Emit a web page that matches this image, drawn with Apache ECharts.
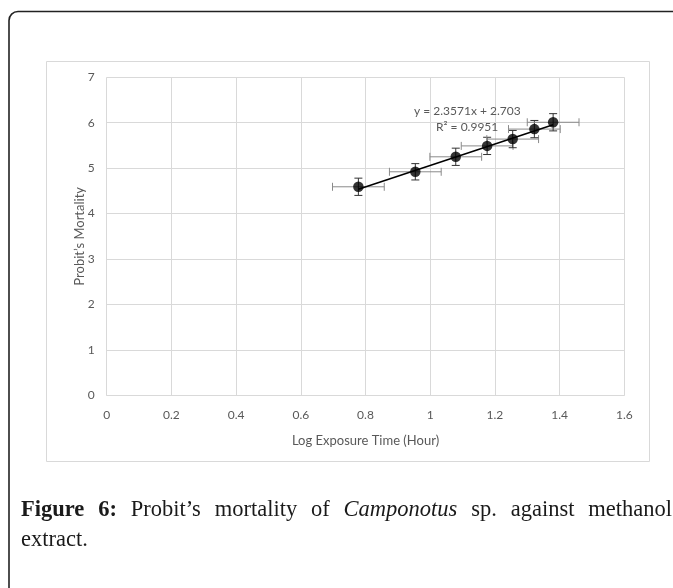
<!DOCTYPE html>
<html><head><meta charset="utf-8">
<script src="https://cdn.jsdelivr.net/npm/echarts@6/dist/echarts.min.js"></script>
<style>html,body{margin:0;padding:0;background:#fff}#c{width:673px;height:588px}</style>
</head><body><div id="c"></div>
<script>
// Data
const xVals = [0.778, 0.954, 1.079, 1.176, 1.255, 1.322, 1.380];   // log exposure time (hour)
const yVals = [4.59, 4.92, 5.25, 5.49, 5.64, 5.86, 6.01];          // probit mortality
const xErr  = [0.08, 0.08, 0.08, 0.08, 0.08, 0.08, 0.08];
const yErr  = [0.19, 0.18, 0.19, 0.19, 0.19, 0.19, 0.19];
const trendX = [0.778, 1.380];
const trendY = [4.537, 5.956];
const eqText = 'y = 2.3571x + 2.703';
const r2Text = 'R\u00B2 = 0.9951';
const xTitle = 'Log Exposure Time (Hour)';
const yTitle = 'Probit\u2019s Mortality';
const captionWords = [
  {t:'Figure', b:true}, {t:'6:', b:true}, {t:'Probit\u2019s'}, {t:'mortality'}, {t:'of'},
  {t:'Camponotus', i:true}, {t:'sp.'}, {t:'against'}, {t:'methanol'}
];
const captionLine2 = 'extract.';

const chart = echarts.init(document.getElementById('c'), null, {renderer:'canvas'});
const gray = '#595959';
const tickFont = {fontFamily:'Lato', fontSize:12, color:gray};

// justified caption line 1
const capFont = 22.5, capFamily = '"Liberation Serif", "DejaVu Serif", serif';
const cv = document.createElement('canvas').getContext('2d');
function fontStr(w){ return (w.i?'italic ':'') + (w.b?'bold ':'') + capFont + 'px ' + capFamily; }
let total = 0; const widths = captionWords.map(w => { cv.font = fontStr(w); const m = cv.measureText(w.t).width; total += m; return m; });
const capLeft = 21, capRight = 672;
const gap = (capRight - capLeft - total) / (captionWords.length - 1);
const capEls = []; let cx = capLeft;
captionWords.forEach((w, k) => {
  capEls.push({type:'text', left: cx, top: 499, style:{text:w.t, fontFamily:capFamily, fontSize:capFont,
    fontWeight: w.b?'bold':'normal', fontStyle: w.i?'italic':'normal', fill:'#1a1a1a'}});
  cx += widths[k] + gap;
});
capEls.push({type:'text', left: capLeft, top: 529, style:{text:captionLine2, fontFamily:capFamily, fontSize:capFont, fill:'#1a1a1a'}});

const option = {
  animation:false,
  backgroundColor:'#fff',
  grid:{left:106.7, right:48.7, top:77.3, bottom:192.7, containLabel:false},
  xAxis:{type:'value', min:0, max:1.6, interval:0.2,
    name:xTitle, nameLocation:'middle', nameGap:39, nameMoveOverlap:false,
    nameTextStyle:{fontFamily:'Lato', fontSize:13, color:gray},
    axisLine:{show:true, lineStyle:{color:'#d9d9d9', width:1}},
    axisTick:{show:false},
    axisLabel:Object.assign({margin:14}, tickFont),
    splitLine:{show:true, lineStyle:{color:'#d9d9d9', width:1}}},
  yAxis:{type:'value', min:0, max:7, interval:1,
    name:yTitle, nameLocation:'middle', nameGap:20, nameRotate:90, nameMoveOverlap:false,
    nameTextStyle:{fontFamily:'Lato', fontSize:13, color:gray},
    axisLine:{show:false}, axisTick:{show:false},
    axisLabel:Object.assign({margin:12}, tickFont),
    splitLine:{show:true, lineStyle:{color:'#d9d9d9', width:1}}},
  graphic:[
    {type:'rect', shape:{x:9, y:11.5, width:720, height:640, r:9}, style:{fill:'none', stroke:'#222', lineWidth:1.6}, z:-1},
    {type:'rect', shape:{x:46.5, y:61.5, width:603, height:400}, style:{fill:'none', stroke:'#d9d9d9', lineWidth:1}, z:-1},
    {type:'text', left:414, top:105, style:{text:eqText, fontFamily:'Lato', fontSize:12, fill:gray}, z:10},
    {type:'text', left:436, top:121, style:{text:r2Text, fontFamily:'Lato', fontSize:12, fill:gray}, z:10}
  ].concat(capEls),
  series:[
    {type:'custom', z:2,
     data: xVals.map((x,i)=>[x, yVals[i], xErr[i], yErr[i]]),
     renderItem:function(params, api){
       const x=api.value(0), y=api.value(1), ex=api.value(2), ey=api.value(3);
       const l=api.coord([x-ex,y]), r=api.coord([x+ex,y]);
       const t=api.coord([x,y+ey]), b=api.coord([x,y-ey]);
       const cap=4;
       const hs={stroke:'#8a8a8a', lineWidth:1}, vs={stroke:'#333333', lineWidth:1};
       return {type:'group', children:[
         {type:'line', shape:{x1:l[0],y1:l[1],x2:r[0],y2:r[1]}, style:hs},
         {type:'line', shape:{x1:l[0],y1:l[1]-cap,x2:l[0],y2:l[1]+cap}, style:hs},
         {type:'line', shape:{x1:r[0],y1:r[1]-cap,x2:r[0],y2:r[1]+cap}, style:hs},
         {type:'line', shape:{x1:t[0],y1:t[1],x2:b[0],y2:b[1]}, style:vs},
         {type:'line', shape:{x1:t[0]-cap,y1:t[1],x2:t[0]+cap,y2:t[1]}, style:vs},
         {type:'line', shape:{x1:b[0]-cap,y1:b[1],x2:b[0]+cap,y2:b[1]}, style:vs}
       ]};
     }},
    {type:'line', z:3, data: trendX.map((x,i)=>[x, trendY[i]]), symbol:'none',
     lineStyle:{color:'#000', width:1.5}},
    {type:'scatter', z:4, data: xVals.map((x,i)=>[x, yVals[i]]), symbol:'circle', symbolSize:10.5,
     itemStyle:{color:'#000'}}
  ]
};
chart.setOption(option);
</script></body></html>
